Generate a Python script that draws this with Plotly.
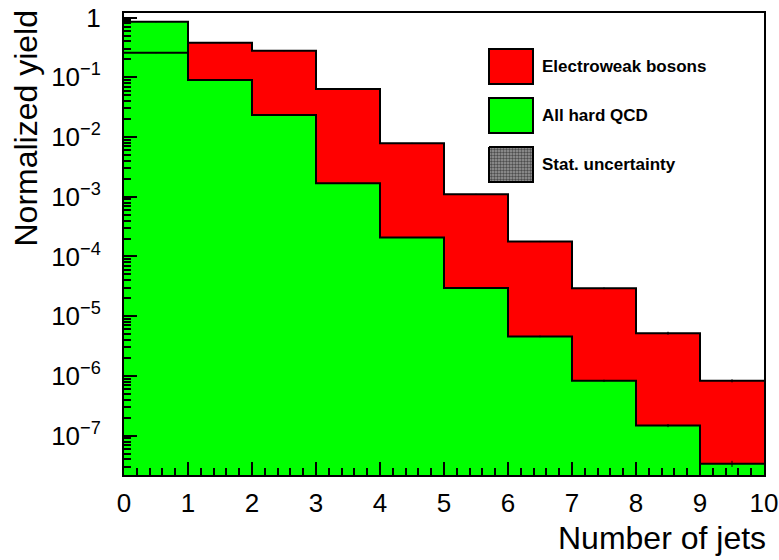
import numpy as np
import plotly.graph_objects as go

# ---- data ----
bin_edges = [0, 1, 2, 3, 4, 5, 6, 7, 8, 9, 10]
ew_vals = [0.258, 0.379, 0.279, 0.0637, 7.87e-3, 1.10e-3, 1.78e-4, 2.93e-5, 5.2e-6, 8.3e-7]
qcd_vals = [0.85, 0.090, 0.0234, 1.69e-3, 2.08e-4, 2.96e-5, 4.6e-6, 8.3e-7, 1.48e-7, 3.4e-8]
ew_err = [0.001, 0.002, 0.002, 5e-4, 8e-5, 1.5e-5, 4e-6, 1e-6, 3e-7, 5e-8]
qcd_err = [0.002, 5e-4, 1.5e-4, 2e-5, 3e-6, 6e-7, 1.5e-7, 3.5e-8, 9e-9, 4e-9]
y_major = [1, 1e-1, 1e-2, 1e-3, 1e-4, 1e-5, 1e-6, 1e-7]
y_major_text = ["1", "10<sup>−1</sup>", "10<sup>−2</sup>", "10<sup>−3</sup>", "10<sup>−4</sup>",
                "10<sup>−5</sup>", "10<sup>−6</sup>", "10<sup>−7</sup>"]
legend_labels = ["Electroweak bosons", "All hard QCD", "Stat. uncertainty"]

edges = np.array(bin_edges, dtype=float)
centers = 0.5 * (edges[:-1] + edges[1:])
widths = np.diff(edges)

FONT = "Liberation Sans, Arial, Helvetica, sans-serif"
RED = "#ff0000"
GREEN = "#00ff00"

fig = go.Figure()
fig.add_trace(go.Bar(x=centers, y=ew_vals, width=widths, marker=dict(color=RED, line=dict(width=0)),
                     showlegend=False, hoverinfo="skip"))
fig.add_trace(go.Bar(x=centers, y=qcd_vals, width=widths, marker=dict(color=GREEN, line=dict(width=0)),
                     showlegend=False, hoverinfo="skip"))

for vals in (qcd_vals, ew_vals):
    fig.add_trace(go.Scatter(x=edges, y=list(vals) + [vals[-1]], mode="lines",
                             line=dict(color="black", width=2, shape="hv"),
                             showlegend=False, hoverinfo="skip"))

for vals, errs in ((ew_vals, ew_err), (qcd_vals, qcd_err)):
    fig.add_trace(go.Scatter(x=centers, y=vals, mode="markers", marker=dict(size=1, color="black"),
                             error_y=dict(type="data", array=errs, color="black", thickness=1, width=0),
                             showlegend=False, hoverinfo="skip"))

# legend swatches on an overlay pixel-like axis
box_x0, box_x1 = 489, 533
box_rows = [(49, 84), (98, 133), (147, 182)]
swatch_colors = [RED, GREEN, None]
for (y0, y1), col, lab in zip(box_rows, swatch_colors, legend_labels):
    if col is not None:
        fig.add_shape(type="rect", xref="x2", yref="y2", x0=box_x0, x1=box_x1, y0=y0, y1=y1,
                      fillcolor=col, line=dict(color="black", width=2), layer="above")
    else:
        fig.add_trace(go.Scatter(x=[box_x0, box_x1, box_x1, box_x0, box_x0],
                                 y=[y0, y0, y1, y1, y0], xaxis="x2", yaxis="y2",
                                 mode="lines", fill="toself",
                                 fillcolor="#8a8a8a",
                                 fillpattern=dict(shape=".", size=3, solidity=0.5,
                                                  fgcolor="#000000", bgcolor="#9a9a9a"),
                                 line=dict(color="black", width=2),
                                 showlegend=False, hoverinfo="skip"))
    fig.add_annotation(xref="x2", yref="y2", x=540, y=(y0 + y1) / 2, text="<b>%s</b>" % lab,
                       showarrow=False, xanchor="left", yanchor="middle",
                       font=dict(family=FONT, size=17, color="black"))

minor_vals = [k * 10.0 ** n for n in range(-8, 1) for k in range(2, 10)]

fig.update_layout(
    width=779, height=560,
    margin=dict(l=124, r=15, t=13, b=85, autoexpand=False),
    paper_bgcolor="white", plot_bgcolor="white",
    barmode="overlay", bargap=0,
    font=dict(family=FONT, color="black"),
    showlegend=False,
    xaxis=dict(range=[0, 10], tickvals=bin_edges, ticktext=[str(v) for v in bin_edges],
               ticks="inside", ticklen=13, tickwidth=2, tickcolor="black",
               minor=dict(dtick=0.2, tick0=0, ticks="inside", ticklen=7, tickwidth=2,
                          tickcolor="black", showgrid=False),
               showgrid=False, zeroline=False, showline=True, linecolor="black", linewidth=2,
               mirror=True, tickfont=dict(size=26, family=FONT), ticklabelstandoff=4,
               automargin=False),
    yaxis=dict(type="log", range=[np.log10(2.2e-8), np.log10(1.19)],
               tickvals=y_major, ticktext=y_major_text,
               ticks="inside", ticklen=13, tickwidth=2, tickcolor="black",
               minor=dict(tickvals=minor_vals, ticks="inside", ticklen=7, tickwidth=2,
                          tickcolor="black", showgrid=False),
               showgrid=False, zeroline=False, showline=True, linecolor="black", linewidth=2,
               mirror=True, tickfont=dict(size=26, family=FONT), ticklabelstandoff=16,
               automargin=False),
    xaxis2=dict(overlaying="x", range=[124, 764], visible=False, automargin=False),
    yaxis2=dict(overlaying="y", range=[475, 13], visible=False, automargin=False),
)

fig.add_annotation(xref="paper", yref="paper", x=(768 - 124) / 640, y=(475 - 538) / 462,
                   text="Number of jets", showarrow=False, xanchor="right", yanchor="middle",
                   font=dict(family=FONT, size=32, color="black"))
fig.add_annotation(xref="paper", yref="paper", x=(25 - 124) / 640, y=(475 - 8) / 462,
                   text="Normalized yield", showarrow=False, textangle=-90,
                   xanchor="center", yanchor="top",
                   font=dict(family=FONT, size=32, color="black"))

fig.write_html("out.html")
